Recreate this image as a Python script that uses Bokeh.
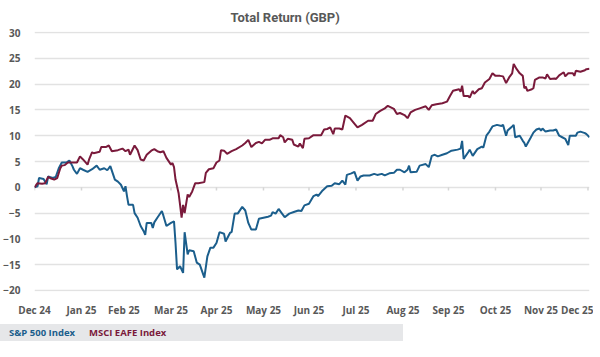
import pandas as pd
from bokeh.plotting import figure
from bokeh.layouts import column
from bokeh.models import Range1d, FixedTicker, Div
from bokeh.embed import file_html
from bokeh.resources import INLINE

# ---------------- data ----------------
start_date = "2024-12-31"

# MSCI EAFE Index (maroon): days since start, total return %
eafe_days = [0, 2, 5, 7, 9, 11, 13, 15, 17, 18, 20, 22, 24, 28, 30, 32, 35, 36, 38, 39,
             43, 44, 47, 49, 51, 55, 58, 60, 62, 63, 66, 68, 70, 72, 74, 77, 79, 81,
             83, 85, 87, 90, 91, 92, 93, 95, 96, 97, 98, 99, 101, 102, 104, 106, 108,
             112, 113, 115, 118, 120, 122, 123, 125, 127, 130, 133, 137, 139, 141, 143,
             146, 148, 150, 152, 155, 157, 161, 162, 164, 165, 167, 170, 171, 174, 175,
             177, 178, 181, 184, 189, 191, 193, 195, 197, 198, 201, 203, 205, 208, 210,
             213, 216, 220, 223, 225, 228, 231, 233, 235, 237, 239, 241, 244, 246, 248,
             251, 254, 258, 260, 262, 265, 269, 272, 274, 276, 280, 281, 282, 283, 286,
             287, 289, 290, 293, 295, 297, 300, 302, 304, 307, 309, 311, 313, 315, 316,
             318, 320, 322, 323, 324, 325, 328, 329, 330, 333, 335, 337, 338, 340, 343,
             344, 346, 349, 350, 352, 355, 356, 357, 360, 363, 364, 366]
eafe_vals = [0.0, 0.8, 0.7, 0.8, 2.0, 1.7, 1.5, 1.8, 3.7, 4.2, 4.3, 4.8, 4.8, 4.8, 6.0, 5.4,
             4.4, 5.4, 6.8, 6.6, 6.9, 7.8, 7.8, 8.1, 7.0, 7.2, 7.5, 7.0, 7.3, 6.3, 8.1, 7.2,
             5.4, 5.2, 6.3, 7.1, 7.4, 7.0, 6.8, 7.0, 5.7, 4.4, 4.7, 3.9, 1.5, -1.1, -3.4,
             -5.9, -3.4, -5.0, -1.4, -1.9, -0.8, 0.8, 0.8, 1.0, 2.8, 3.5, 3.7, 4.8, 5.2,
             7.2, 7.1, 6.5, 7.0, 7.4, 8.1, 8.6, 9.2, 7.8, 8.6, 8.8, 8.5, 9.2, 9.2, 9.5, 9.5,
             10.1, 9.7, 8.7, 9.4, 9.2, 8.3, 7.9, 8.5, 7.6, 9.4, 9.5, 10.1, 10.1, 11.2, 11.3,
             11.6, 10.3, 11.4, 11.4, 11.2, 13.9, 13.4, 12.7, 11.6, 12.1, 12.9, 12.9, 14.2,
             14.8, 15.3, 15.8, 15.5, 15.2, 14.2, 14.4, 14.0, 13.4, 14.5, 15.0, 15.3, 15.7,
             15.0, 15.9, 16.1, 16.3, 16.6, 17.7, 18.7, 19.0, 18.5, 19.7, 17.7, 17.7, 17.4,
             18.7, 18.1, 19.0, 19.2, 20.3, 21.0, 22.1, 21.6, 21.6, 21.5, 20.2, 21.3, 22.1,
             23.9, 22.9, 22.1, 21.6, 19.2, 19.5, 18.7, 19.0, 19.2, 20.8, 21.3, 21.3, 21.1,
             21.9, 21.0, 21.1, 21.0, 21.7, 22.3, 21.5, 22.1, 22.1, 21.6, 22.6, 22.4, 22.7,
             22.9, 23.0]

# S&P 500 Index (blue): days since start, total return %
spx_days = [0, 2, 3, 6, 8, 9, 12, 14, 16, 18, 21, 23, 25, 26, 28, 30, 32, 35, 38, 41, 43,
            46, 48, 50, 53, 55, 57, 59, 60, 61, 62, 65, 66, 68, 70, 72, 73, 74, 77, 78,
            79, 81, 84, 85, 87, 90, 92, 93, 94, 96, 98, 99, 101, 102, 105, 107, 109, 112,
            114, 116, 118, 120, 122, 125, 126, 129, 130, 132, 134, 137, 139, 141, 143, 146,
            148, 151, 154, 156, 157, 159, 161, 163, 165, 168, 171, 174, 176, 178, 181, 184,
            186, 187, 190, 193, 196, 198, 201, 203, 205, 206, 209, 211, 213, 215, 217, 221,
            224, 226, 229, 231, 234, 237, 239, 241, 244, 246, 247, 248, 252, 254, 258, 260,
            262, 264, 266, 269, 272, 275, 279, 281, 282, 283, 286, 287, 289, 292, 295, 296,
            298, 300, 302, 305, 308, 309, 311, 312, 315, 316, 317, 320, 322, 323, 324, 327,
            329, 331, 333, 334, 335, 337, 340, 342, 344, 346, 348, 350, 352, 353, 357, 358,
            360, 363, 364, 366]
spx_vals = [0.0, 0.2, 1.8, 1.6, 0.6, 2.1, 1.8, 2.0, 3.7, 4.8, 4.8, 5.2, 4.1, 3.4, 2.6, 3.7,
            3.4, 3.0, 3.5, 4.2, 3.4, 3.7, 3.3, 4.1, 1.5, 1.1, 0.5, -0.8, 0.2, -1.7, -3.4,
            -3.4, -5.0, -5.9, -7.5, -8.5, -9.2, -6.9, -6.9, -7.9, -6.8, -5.9, -4.6, -5.5,
            -7.5, -6.9, -6.6, -10.8, -15.9, -15.3, -16.6, -8.7, -13.0, -12.2, -12.4, -14.6,
            -15.0, -17.5, -13.4, -11.7, -11.7, -10.8, -8.7, -9.0, -10.5, -8.8, -8.7, -5.1,
            -5.1, -3.8, -4.5, -6.9, -8.2, -8.2, -6.1, -5.9, -5.7, -5.5, -4.8, -5.1, -4.2,
            -5.0, -5.8, -5.1, -4.8, -4.5, -4.6, -3.5, -3.2, -1.7, -1.4, -1.7, -0.6, 0.2,
            0.3, 0.8, 0.6, 1.3, 0.5, 2.4, 2.7, 3.0, 1.3, 2.1, 2.3, 2.3, 2.6, 2.4, 2.6, 2.3,
            2.7, 2.8, 3.4, 3.4, 2.9, 3.4, 4.2, 2.9, 3.0, 4.2, 4.5, 3.9, 6.1, 6.3, 6.0, 6.3,
            6.6, 7.1, 7.3, 7.5, 9.0, 5.5, 6.8, 7.3, 6.1, 7.4, 7.9, 7.7, 10.0, 10.8, 11.8,
            12.1, 11.9, 12.1, 10.0, 11.0, 11.8, 12.1, 9.7, 10.0, 9.0, 8.6, 7.9, 9.5, 10.6,
            11.2, 11.4, 11.0, 11.4, 10.8, 11.0, 11.0, 11.2, 10.0, 9.7, 9.4, 8.2, 10.0,
            10.0, 10.6, 10.8, 10.5, 10.3, 9.7]

tick_dates = ["2024-12-31", "2025-01-31", "2025-02-28", "2025-03-31", "2025-04-30",
              "2025-05-31", "2025-06-30", "2025-07-31", "2025-08-31", "2025-09-30",
              "2025-10-31", "2025-11-30", "2025-12-31"]
tick_labels = ["Dec 24", "Jan 25", "Feb 25", "Mar 25", "Apr 25", "May 25", "Jun 25",
               "Jul 25", "Aug 25", "Sep 25", "Oct 25", "Nov 25", "Dec 25"]
y_ticks = [-20, -15, -10, -5, 0, 5, 10, 15, 20, 25, 30]

title_text = "Total Return (GBP)"
legend_names = ["S&amp;P 500 Index", "MSCI EAFE Index"]

# ---------------- styling ----------------
BLUE = "#1b5e8c"
MAROON = "#7a1a3b"
GREY_TXT = "#585858"
GRID = "#e2e2e2"
BAND = "#e6e7e9"
FONT = "Open Sans"

start = pd.Timestamp(start_date)
eafe_x = start + pd.to_timedelta(eafe_days, unit="D")
spx_x = start + pd.to_timedelta(spx_days, unit="D")
tick_ts = pd.to_datetime(tick_dates)
tick_ms = [t.value // 10**6 for t in tick_ts]

p = figure(frame_width=555, frame_height=260, output_backend="svg", toolbar_location=None,
           x_axis_type="datetime",
           x_range=Range1d(tick_ts[0], tick_ts[-1] + pd.Timedelta(days=1)),
           y_range=Range1d(-20.2, 30.2),
           min_border_left=25, min_border_right=4, min_border_top=31, min_border_bottom=33,
           title=title_text)
p.outline_line_color = None

p.title.align = "left"
p.title.offset = 196
p.title.text_font = "Roboto"
p.title.text_font_style = "bold"
p.title.text_font_size = "13px"
p.title.text_color = GREY_TXT
p.title.standoff = 13

p.xgrid.visible = False
p.ygrid.grid_line_color = GRID
p.ygrid.grid_line_width = 1.5

p.yaxis.ticker = FixedTicker(ticks=y_ticks)
p.xaxis.ticker = FixedTicker(ticks=tick_ms)
p.xaxis.major_label_overrides = {t: l for t, l in zip(tick_ms, tick_labels)}
for ax in (p.xaxis, p.yaxis):
    ax.axis_line_color = None
    ax.major_tick_line_color = None
    ax.minor_tick_line_color = None
    ax.major_label_text_font = FONT
    ax.major_label_text_font_style = "bold"
    ax.major_label_text_font_size = "10px"
    ax.major_label_text_color = GREY_TXT
p.yaxis.major_label_standoff = 8
p.xaxis.major_label_standoff = 5

# month tick marks on the zero line
p.segment(x0=tick_ts, y0=0, x1=tick_ts, y1=-0.6, line_color="#d6d6d6", line_width=1.5)

# series
p.line(spx_x, spx_vals, line_color=BLUE, line_width=2)
p.line(eafe_x, eafe_vals, line_color=MAROON, line_width=2)

# legend strip below the chart
span_style = ("position:absolute;top:0;font-family:'Open Sans';font-weight:bold;"
              "font-size:9.5px;line-height:17px;white-space:nowrap;")
legend_html = (
    f'<div style="position:relative;width:403px;height:17px;background:{BAND};">'
    f'<span style="{span_style}left:9px;color:{BLUE};">{legend_names[0]}</span>'
    f'<span style="{span_style}left:89px;color:{MAROON};">{legend_names[1]}</span>'
    '</div>'
)
leg = Div(text=legend_html, width=403, height=17, margin=(0, 0, 0, 0))

layout = column(p, leg, spacing=0)
open("out.html", "w").write(file_html(layout, INLINE))
